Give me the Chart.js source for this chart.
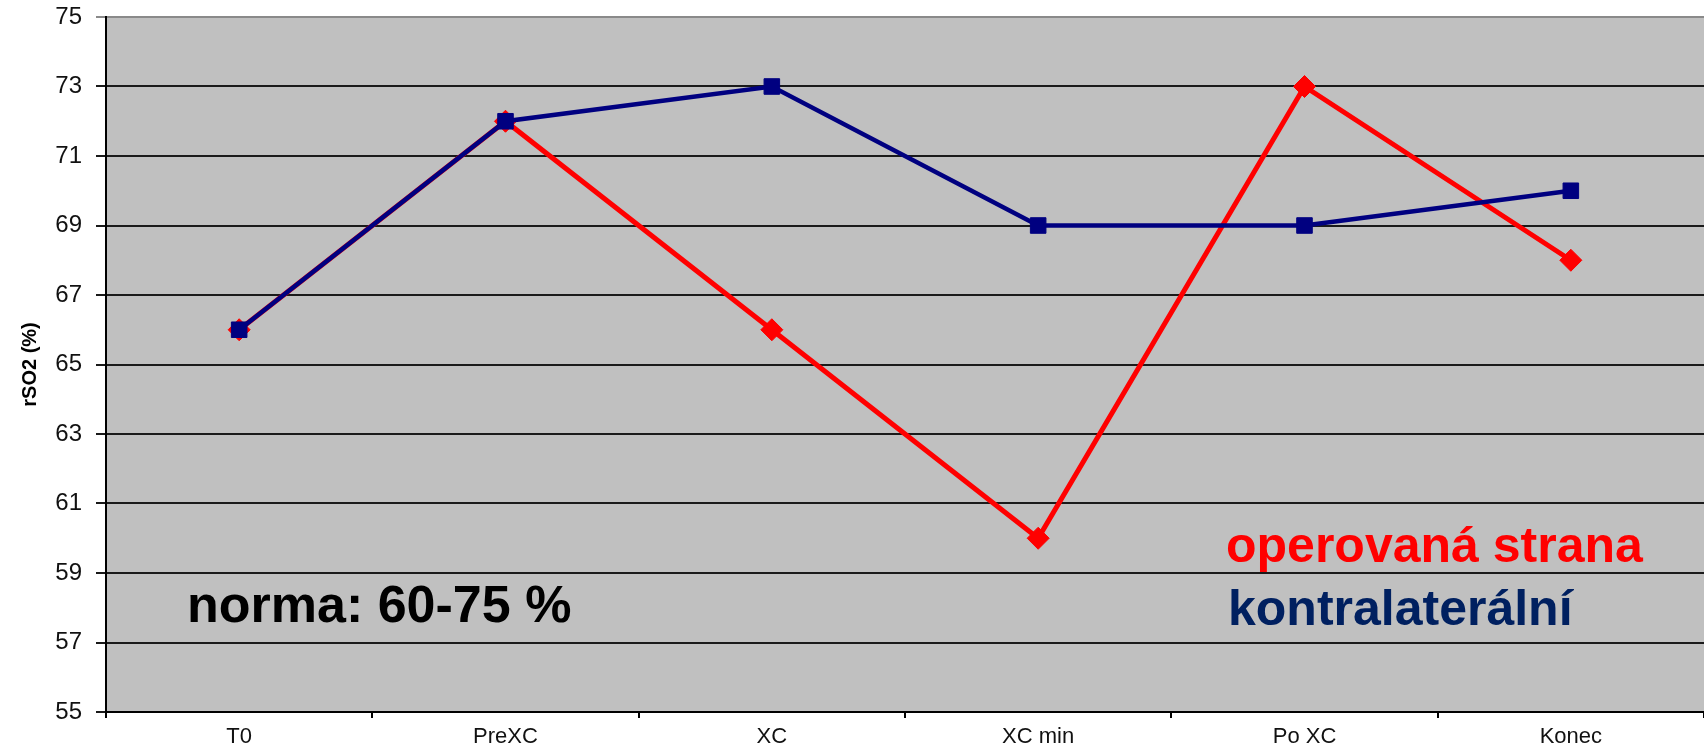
<!DOCTYPE html>
<html>
<head>
<meta charset="utf-8">
<script src="https://cdn.jsdelivr.net/npm/chart.js@4"></script>
<style>
  html, body { margin: 0; padding: 0; background: #ffffff; overflow: hidden; }
  #wrap { width: 1704px; height: 746px; position: relative; }
  canvas { display: block; }
</style>
</head>
<body>
<div id="wrap"><canvas id="c" width="1704" height="746"></canvas></div>
<script>
// ---- data ----
const categories = ["T0", "PreXC", "XC", "XC min", "Po XC", "Konec"];
const operovana = [66, 72, 66, 60, 73, 68];
const kontralateralni = [66, 72, 73, 69, 69, 70];
const yMin = 55, yMax = 75, yStep = 2;
const yTitle = "rSO2 (%)";
const noteText = "norma: 60-75 %";
const labelOperovana = "operovaná strana";
const labelKontra = "kontralaterální";

const FONT = "'Liberation Sans', Arial, sans-serif";

const bgPlugin = {
  id: 'plotBg',
  beforeDraw(chart) {
    const { ctx, chartArea: a } = chart;
    ctx.save();
    ctx.fillStyle = '#c0c0c0';
    ctx.fillRect(a.left, a.top, a.right - a.left, a.bottom - a.top);
    ctx.restore();
  }
};

const textPlugin = {
  id: 'texts',
  afterDraw(chart) {
    const { ctx } = chart;
    ctx.save();
    ctx.textAlign = 'left';
    ctx.textBaseline = 'alphabetic';
    ctx.font = "bold 52px " + FONT;
    ctx.fillStyle = '#000000';
    ctx.fillText(noteText, 187, 622);
    ctx.font = "bold 50px " + FONT;
    ctx.fillStyle = '#ff0000';
    ctx.fillText(labelOperovana, 1226, 562);
    ctx.fillStyle = '#002060';
    ctx.fillText(labelKontra, 1228, 625);
    ctx.restore();
  }
};

new Chart(document.getElementById('c'), {
  type: 'line',
  data: {
    labels: categories,
    datasets: [
      {
        label: labelKontra,
        data: kontralateralni,
        borderColor: '#000080',
        backgroundColor: '#000080',
        borderWidth: 4.5,
        pointStyle: 'rect',
        pointRadius: 11,
        pointBorderWidth: 1,
        pointBorderColor: '#000080',
        pointBackgroundColor: '#000080',
        tension: 0,
        fill: false
      },
      {
        label: labelOperovana,
        data: operovana,
        borderColor: '#ff0000',
        backgroundColor: '#ff0000',
        borderWidth: 5,
        pointStyle: 'rectRot',
        pointRadius: 11,
        pointBorderWidth: 1,
        pointBorderColor: '#ff0000',
        pointBackgroundColor: '#ff0000',
        tension: 0,
        fill: false
      }
    ]
  },
  options: {
    responsive: false,
    animation: false,
    layout: { autoPadding: false, padding: { top: 17, right: 0, left: 0, bottom: 0 } },
    plugins: {
      legend: { display: false },
      tooltip: { enabled: false },
      title: { display: false }
    },
    scales: {
      x: {
        type: 'category',
        offset: true,
        afterFit(scale) {
          scale.height = 34;
          scale.paddingLeft = 0;
          scale.paddingRight = 0;
        },
        grid: {
          offset: true,
          drawOnChartArea: false,
          drawTicks: true,
          tickLength: 6,
          color: '#000000',
          lineWidth: 2
        },
        border: { display: true, color: '#000000', width: 2 },
        ticks: {
          color: '#111111',
          padding: 6,
          maxRotation: 0,
          font: { family: FONT, size: 22 }
        }
      },
      y: {
        min: yMin,
        max: yMax,
        afterFit(scale) {
          scale.width = 106;
          scale.paddingTop = 0;
          scale.paddingBottom = 0;
        },
        title: {
          display: true,
          text: yTitle,
          color: '#000000',
          padding: { top: 18, bottom: 0 },
          font: { family: FONT, size: 20, weight: 'bold' }
        },
        grid: {
          color: (c) => (c.tick && c.tick.value === yMax) ? '#8a8a8a' : '#1a1a1a',
          lineWidth: 2,
          tickLength: 10,
          drawTicks: true
        },
        border: { display: true, color: '#000000', width: 2 },
        ticks: {
          stepSize: yStep,
          color: '#111111',
          padding: 14,
          font: { family: FONT, size: 24 }
        }
      }
    }
  },
  plugins: [bgPlugin, textPlugin]
});
</script>
</body>
</html>
